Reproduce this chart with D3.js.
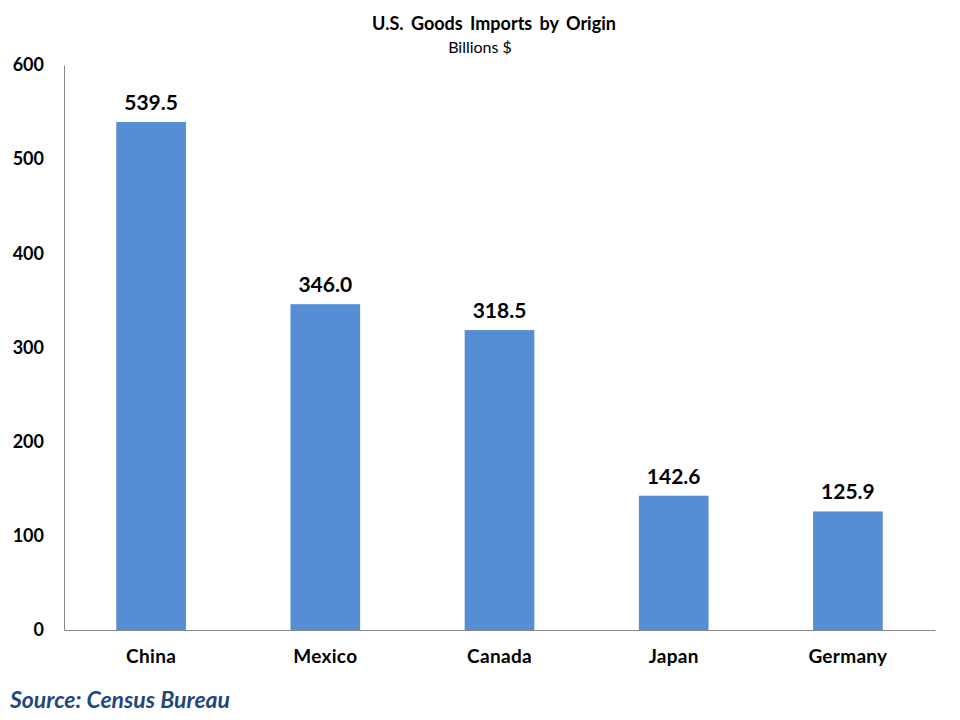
<!DOCTYPE html>
<html>
<head>
<meta charset="utf-8">
<script src="https://cdn.jsdelivr.net/npm/d3@7"></script>
<style>
  body { margin: 0; background: #fff; }
  text { font-family: Lato, "Open Sans", sans-serif; }
</style>
</head>
<body>
<svg width="960" height="720"></svg>
<script>
const countries = ["China", "Mexico", "Canada", "Japan", "Germany"]
const imports = [539.5, 346.0, 318.5, 142.6, 125.9]
const yTicks = [0, 100, 200, 300, 400, 500, 600]

const svg = d3.select("svg")
const margin = {top: 65, right: 25, bottom: 90, left: 64}
const width = 960, height = 720

const x = d3.scaleBand()
    .domain(countries)
    .range([margin.left, width - margin.right])
    .paddingInner(0.6)
    .paddingOuter(0.3)

const y = d3.scaleLinear()
    .domain([0, 600])
    .range([height - margin.bottom, margin.top])

// title
svg.append("text")
   .attr("x", 494).attr("y", 30)
   .attr("text-anchor", "middle")
   .attr("font-weight", "bold")
   .attr("font-size", "18px")
   .attr("word-spacing", "3px")
   .text("U.S. Goods Imports by Origin")

svg.append("text")
   .attr("x", 480).attr("y", 53)
   .attr("text-anchor", "middle")
   .attr("font-size", "16px")
   .text("Billions $")

// y axis
const yAxis = svg.append("g")
   .attr("transform", `translate(${margin.left},0)`)
   .call(d3.axisLeft(y).tickValues(yTicks).tickSize(0).tickPadding(20))
yAxis.select(".domain").attr("stroke", "#868686")
yAxis.selectAll("text")
   .attr("font-size", "18px")
   .attr("font-weight", "bold")
   .attr("fill", "#000")

// x axis
const xAxis = svg.append("g")
   .attr("transform", `translate(0,${y(0)})`)
   .call(d3.axisBottom(x).tickSize(0).tickPadding(20))
xAxis.select(".domain").attr("stroke", "#868686")
xAxis.selectAll("text")
   .attr("font-size", "19px")
   .attr("font-weight", "bold")
   .attr("letter-spacing", "0.3px")
   .attr("fill", "#000")

const data = countries.map((c, i) => ({country: c, value: imports[i]}))

svg.selectAll("rect.bar")
   .data(data)
   .join("rect")
   .attr("class", "bar")
   .attr("x", d => x(d.country))
   .attr("y", d => y(d.value))
   .attr("width", x.bandwidth())
   .attr("height", d => y(0) - y(d.value))
   .attr("fill", "#558ED5")

svg.selectAll("text.val")
   .data(data)
   .join("text")
   .attr("class", "val")
   .attr("x", d => x(d.country) + x.bandwidth() / 2)
   .attr("y", d => y(d.value) - 12)
   .attr("text-anchor", "middle")
   .attr("font-size", "21px")
   .attr("font-weight", "bold")
   .text(d => d3.format(".1f")(d.value))

svg.append("text")
   .attr("x", 10).attr("y", 708)
   .attr("font-size", "23px")
   .attr("font-weight", "bold")
   .attr("font-style", "italic")
   .attr("fill", "#1F497D")
   .text("Source: Census Bureau")
</script>
</body>
</html>
